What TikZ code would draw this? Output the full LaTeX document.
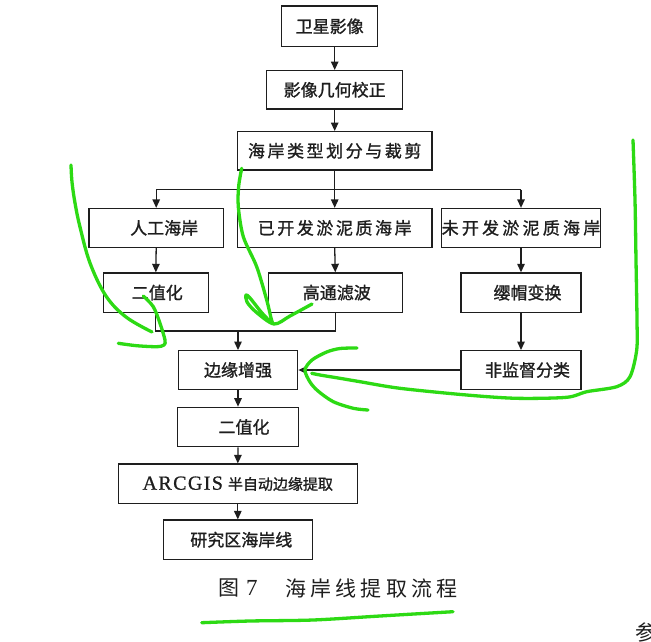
\documentclass[tikz,border=0pt]{standalone}
\usepackage{fontspec}
\setmainfont{Liberation Serif}
\newfontfamily\cjk{Noto Sans CJK SC}
\newfontfamily\cjkbox[FakeBold=1.2]{Noto Sans CJK SC}
\newfontfamily\cjkwide[LetterSpace=15,FakeBold=1.2]{Noto Sans CJK SC}
\newfontfamily\cjkwider[LetterSpace=19,FakeBold=1.2]{Noto Sans CJK SC}
\newfontfamily\cjkcap[LetterSpace=20]{Noto Sans CJK SC}
\newfontfamily\latinwide[LetterSpace=7,FakeBold=0.8]{Liberation Serif}
\usetikzlibrary{arrows.meta}
\definecolor{inkc}{RGB}{30,30,30}
\definecolor{markgreen}{RGB}{45,218,20}

\begin{document}
\begin{tikzpicture}[x=1pt,y=-1pt,
  box/.style={draw=inkc, line width=1.3pt, inner sep=0pt, text=inkc,
    font=\cjkbox\fontsize{17}{17}\selectfont},
  widebox/.style={box, font=\cjkwide\fontsize{17}{17}\selectfont},
  widerbox/.style={box, font=\cjkwider\fontsize{17}{17}\selectfont},
  flow/.style={draw=inkc, line width=1.3pt, -{Triangle[length=8.5pt,width=7.5pt]}},
  link/.style={draw=inkc, line width=1.3pt},
  marker/.style={draw=markgreen, line width=3.3pt, line cap=round, line join=round},
  captext/.style={text=inkc, inner sep=0pt}]

\clip (0,0) rectangle (651,641);
\fill[white] (0,0) rectangle (651,641);

% main chain
\node[box, minimum width=96pt, minimum height=40.7pt] (sat) at (329.7,26.3) {卫星影像};
\node[box, minimum width=136pt, minimum height=38.3pt] (geo) at (334.7,89.8) {影像几何校正};
\node[widebox, minimum width=194.7pt, minimum height=38.3pt] (seg) at (334.7,150.8) {海岸类型划分与裁剪};

% coast types
\node[box, minimum width=134.5pt, minimum height=38.8pt] (art) at (156.2,227.9) {\hspace*{16pt}人工海岸};
\node[widebox, minimum width=194.7pt, minimum height=38.8pt] (dev) at (334.7,227.9) {已开发淤泥质海岸};
\node[widerbox, minimum width=150pt, minimum height=38.8pt] (und) at (521,227.9) {未开发淤泥质海岸};

% per-type processing
\node[box, minimum width=105pt, minimum height=39.3pt] (bin1) at (155.8,292.6) {\hspace*{3pt}二值化};
\node[box, minimum width=134pt, minimum height=39.3pt] (hpf) at (335.3,292.6) {\hspace*{3pt}高通滤波};
\node[box, minimum width=120pt, minimum height=39.3pt] (tct) at (521,292.6) {\hspace*{13pt}缨帽变换};
\node[box, minimum width=119.4pt, minimum height=38.6pt] (edge) at (238,370) {边缘增强};
\node[box, minimum width=120pt, minimum height=38.6pt] (uns) at (521,370) {\hspace*{13pt}非监督分类};

% final chain
\node[box, minimum width=120.6pt, minimum height=39.4pt] (bin2) at (238,427) {\hspace*{12pt}二值化};
\node[box, minimum width=239pt, minimum height=39.3pt] (arc) at (237.8,483.7)
  {{\latinwide\fontsize{20}{20}\selectfont ARCGIS}\hspace{5pt}{\cjkbox\fontsize{15}{15}\selectfont 半自动边缘提取}};
\node[box, minimum width=149pt, minimum height=39.3pt] (res) at (237.8,539.7) {\hspace*{7pt}研究区海岸线};

% connectors
\draw[flow] (geo.north |- sat.south) -- (geo.north);
\draw[flow] (geo.south) -- (seg.north);
\coordinate (br) at (334.7,189.5);
\draw[link] (seg.south) -- (br);
\draw[link] (art.north |- br) -- (und.north |- br);
\draw[flow] (art.north |- br) -- (art.north);
\draw[flow] (br) -- (dev.north);
\draw[flow] (und.north |- br) -- (und.north);
\draw[flow] (art.south) -- (bin1.north);
\draw[flow] (dev.south) -- (hpf.north);
\draw[flow] (und.south) -- (tct.north);
\coordinate (mg) at (238,331);
\draw[link] (bin1.south) |- (mg) -| (hpf.south);
\draw[flow] (mg) -- (edge.north);
\draw[flow] (tct.south) -- (uns.north);
\draw[flow] (uns.west) -- (edge.east);
\draw[flow] (edge.south) -- (bin2.north);
\draw[flow] (bin2.south) -- (arc.north);
\draw[flow] (arc.south) -- (res.north);

% caption
\node[captext, anchor=west, font=\cjk\fontsize{21}{21}\selectfont] (capnum) at (218,588)
  {图\hspace{7pt}{\rmfamily\fontsize{23}{23}\selectfont 7}};
\node[captext, anchor=west, font=\cjkcap\fontsize{21}{21}\selectfont] (captitle) at (285,588) {海岸线提取流程};
\node[captext, anchor=west, font=\cjk\fontsize{21}{21}\selectfont] (nextword) at (635,632) {参};

% hand-drawn green marks
\draw[marker] plot[smooth, tension=0.6] coordinates {(71,165) (72,182) (75,203) (80,227) (90,263) (106,296) (126,317) (152,332)};
\draw[marker] plot[smooth, tension=0.5] coordinates {(143.3,296) (153.3,306.7) (160,323.3) (165,340) (164,345) (156.7,346.7) (136.7,345.7) (118.3,343.3)};
\draw[marker] plot[smooth, tension=0.5] coordinates {(241.7,168.3) (238.7,186) (238.3,206.7) (243.3,236.7) (256.7,266.7) (266.7,300) (271,318) (272,323)
  (262,313) (250,298) (246,295) (247,302) (256,312) (274,324) (290,316) (312,304)};
\draw[marker] plot[smooth, tension=0.5] coordinates {(633,140) (635,200) (636,260) (637,320) (636.7,350) (630,376.7) (616.7,386.7) (586.7,391.7)
  (566.7,397.3) (516.7,398.3) (466.7,395) (400,388.3) (360,381.7) (340,378.3) (320,375) (311.7,373.3)};
\draw[marker] plot[smooth, tension=0.5] coordinates {(357,348) (340,348.5) (326.7,352) (312,360) (305,370) (310,382) (318,391) (333.3,401.7) (353.3,408.3) (368,410)};
\draw[marker] plot[smooth, tension=0.5] coordinates {(201.7,622.7) (250,621) (313,620) (380,616) (453,611.7)};
\end{tikzpicture}
\end{document}
